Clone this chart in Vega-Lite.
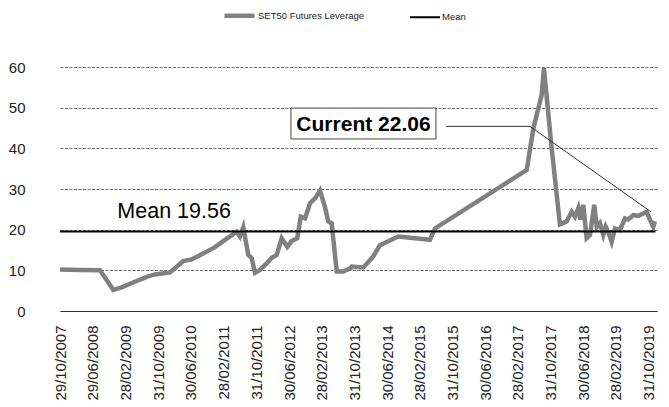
{
  "$schema": "https://vega.github.io/schema/vega-lite/v6.json",
  "width": 597,
  "height": 244,
  "autosize": {"type": "none"},
  "padding": {"left": 60, "top": 67, "right": 12, "bottom": 96},
  "background": "white",
  "config": {
    "view": {"stroke": null},
    "font": "Liberation Sans",
    "text": {"font": "Liberation Sans"},
    "axis": {"labelOverlap": false, "labelFlush": false, "labelBound": false},
    "axisX": {"labelOverlap": false, "labelFlush": false}
  },
  "datasets": {
    "lines": [
      {"date": "2007-10-29", "value": 10.2, "series": "SET50 Futures Leverage"},
      {"date": "2008-03-31", "value": 10.1, "series": "SET50 Futures Leverage"},
      {"date": "2008-08-22", "value": 10.0, "series": "SET50 Futures Leverage"},
      {"date": "2008-11-29", "value": 5.2, "series": "SET50 Futures Leverage"},
      {"date": "2009-01-30", "value": 5.8, "series": "SET50 Futures Leverage"},
      {"date": "2009-05-09", "value": 7.2, "series": "SET50 Futures Leverage"},
      {"date": "2009-08-05", "value": 8.4, "series": "SET50 Futures Leverage"},
      {"date": "2009-10-05", "value": 9.0, "series": "SET50 Futures Leverage"},
      {"date": "2010-01-25", "value": 9.5, "series": "SET50 Futures Leverage"},
      {"date": "2010-05-04", "value": 12.3, "series": "SET50 Futures Leverage"},
      {"date": "2010-07-06", "value": 12.7, "series": "SET50 Futures Leverage"},
      {"date": "2010-08-24", "value": 13.5, "series": "SET50 Futures Leverage"},
      {"date": "2010-10-25", "value": 14.6, "series": "SET50 Futures Leverage"},
      {"date": "2010-12-26", "value": 15.7, "series": "SET50 Futures Leverage"},
      {"date": "2011-03-11", "value": 17.5, "series": "SET50 Futures Leverage"},
      {"date": "2011-05-12", "value": 18.9, "series": "SET50 Futures Leverage"},
      {"date": "2011-06-06", "value": 19.5, "series": "SET50 Futures Leverage"},
      {"date": "2011-06-30", "value": 18.3, "series": "SET50 Futures Leverage"},
      {"date": "2011-07-25", "value": 20.6, "series": "SET50 Futures Leverage"},
      {"date": "2011-08-31", "value": 13.8, "series": "SET50 Futures Leverage"},
      {"date": "2011-09-26", "value": 13.0, "series": "SET50 Futures Leverage"},
      {"date": "2011-10-20", "value": 9.4, "series": "SET50 Futures Leverage"},
      {"date": "2011-11-26", "value": 10.1, "series": "SET50 Futures Leverage"},
      {"date": "2012-01-15", "value": 11.7, "series": "SET50 Futures Leverage"},
      {"date": "2012-02-22", "value": 13.1, "series": "SET50 Futures Leverage"},
      {"date": "2012-03-30", "value": 13.8, "series": "SET50 Futures Leverage"},
      {"date": "2012-05-06", "value": 17.9, "series": "SET50 Futures Leverage"},
      {"date": "2012-06-17", "value": 15.8, "series": "SET50 Futures Leverage"},
      {"date": "2012-07-19", "value": 17.2, "series": "SET50 Futures Leverage"},
      {"date": "2012-08-30", "value": 17.9, "series": "SET50 Futures Leverage"},
      {"date": "2012-09-25", "value": 23.2, "series": "SET50 Futures Leverage"},
      {"date": "2012-10-27", "value": 22.8, "series": "SET50 Futures Leverage"},
      {"date": "2012-12-03", "value": 26.5, "series": "SET50 Futures Leverage"},
      {"date": "2013-01-09", "value": 27.7, "series": "SET50 Futures Leverage"},
      {"date": "2013-02-15", "value": 29.6, "series": "SET50 Futures Leverage"},
      {"date": "2013-03-24", "value": 25.6, "series": "SET50 Futures Leverage"},
      {"date": "2013-04-18", "value": 22.0, "series": "SET50 Futures Leverage"},
      {"date": "2013-05-13", "value": 21.6, "series": "SET50 Futures Leverage"},
      {"date": "2013-06-20", "value": 9.7, "series": "SET50 Futures Leverage"},
      {"date": "2013-08-08", "value": 9.7, "series": "SET50 Futures Leverage"},
      {"date": "2013-09-27", "value": 10.5, "series": "SET50 Futures Leverage"},
      {"date": "2013-10-09", "value": 10.9, "series": "SET50 Futures Leverage"},
      {"date": "2014-01-04", "value": 10.7, "series": "SET50 Futures Leverage"},
      {"date": "2014-03-19", "value": 13.4, "series": "SET50 Futures Leverage"},
      {"date": "2014-05-08", "value": 16.2, "series": "SET50 Futures Leverage"},
      {"date": "2014-09-21", "value": 18.3, "series": "SET50 Futures Leverage"},
      {"date": "2015-05-15", "value": 17.5, "series": "SET50 Futures Leverage"},
      {"date": "2015-06-22", "value": 20.3, "series": "SET50 Futures Leverage"},
      {"date": "2017-05-05", "value": 34.7, "series": "SET50 Futures Leverage"},
      {"date": "2017-06-23", "value": 44.9, "series": "SET50 Futures Leverage"},
      {"date": "2017-08-24", "value": 53.1, "series": "SET50 Futures Leverage"},
      {"date": "2017-09-10", "value": 59.7, "series": "SET50 Futures Leverage"},
      {"date": "2017-11-05", "value": 40.5, "series": "SET50 Futures Leverage"},
      {"date": "2018-01-07", "value": 21.3, "series": "SET50 Futures Leverage"},
      {"date": "2018-02-26", "value": 22.0, "series": "SET50 Futures Leverage"},
      {"date": "2018-04-05", "value": 24.4, "series": "SET50 Futures Leverage"},
      {"date": "2018-04-29", "value": 23.2, "series": "SET50 Futures Leverage"},
      {"date": "2018-05-24", "value": 25.3, "series": "SET50 Futures Leverage"},
      {"date": "2018-06-09", "value": 22.5, "series": "SET50 Futures Leverage"},
      {"date": "2018-06-30", "value": 26.1, "series": "SET50 Futures Leverage"},
      {"date": "2018-07-25", "value": 17.9, "series": "SET50 Futures Leverage"},
      {"date": "2018-08-19", "value": 18.7, "series": "SET50 Futures Leverage"},
      {"date": "2018-09-20", "value": 26.1, "series": "SET50 Futures Leverage"},
      {"date": "2018-10-08", "value": 20.7, "series": "SET50 Futures Leverage"},
      {"date": "2018-11-01", "value": 21.6, "series": "SET50 Futures Leverage"},
      {"date": "2018-11-26", "value": 18.7, "series": "SET50 Futures Leverage"},
      {"date": "2018-12-14", "value": 20.7, "series": "SET50 Futures Leverage"},
      {"date": "2019-01-02", "value": 19.4, "series": "SET50 Futures Leverage"},
      {"date": "2019-01-27", "value": 17.0, "series": "SET50 Futures Leverage"},
      {"date": "2019-02-21", "value": 20.3, "series": "SET50 Futures Leverage"},
      {"date": "2019-03-30", "value": 19.9, "series": "SET50 Futures Leverage"},
      {"date": "2019-05-07", "value": 22.8, "series": "SET50 Futures Leverage"},
      {"date": "2019-05-31", "value": 22.5, "series": "SET50 Futures Leverage"},
      {"date": "2019-07-08", "value": 23.6, "series": "SET50 Futures Leverage"},
      {"date": "2019-08-14", "value": 23.4, "series": "SET50 Futures Leverage"},
      {"date": "2019-09-20", "value": 24.0, "series": "SET50 Futures Leverage"},
      {"date": "2019-10-15", "value": 24.4, "series": "SET50 Futures Leverage"},
      {"date": "2019-11-09", "value": 22.4, "series": "SET50 Futures Leverage"},
      {"date": "2019-12-03", "value": 20.7, "series": "SET50 Futures Leverage"},
      {"date": "2019-12-16", "value": 22.06, "series": "SET50 Futures Leverage"},
      {"date": "2007-10-29", "value": 19.56, "series": "Mean"},
      {"date": "2019-12-20", "value": 19.56, "series": "Mean"}
    ],
    "leader": [
      {"date": "2015-09-12", "value": 45.4, "order": 1},
      {"date": "2017-05-29", "value": 45.4, "order": 2},
      {"date": "2019-11-16", "value": 24.4, "order": 3}
    ],
    "box": [
      {"start": "2012-07-14", "end": "2015-06-29", "low": 42.3, "high": 49.9}
    ],
    "meanLabel": [
      {"date": "2008-12-29", "value": 24.3, "label": "Mean 19.56"}
    ],
    "currentLabel": [
      {"date": "2014-01-05", "value": 45.8, "label": "Current 22.06"}
    ]
  },
  "layer": [
    {
      "data": {"name": "lines"},
      "mark": {"type": "line", "strokeJoin": "miter", "strokeCap": "butt"},
      "encoding": {
        "x": {
          "field": "date",
          "type": "temporal",
          "scale": {
            "type": "utc",
            "domain": [
              {"year": 2007, "month": 10, "date": 29, "utc": true},
              {"year": 2019, "month": 12, "date": 31, "utc": true}
            ]
          },
          "axis": {
            "title": null,
            "tickCount": 60,
            "values": [
              {"year": 2007, "month": 10, "date": 29, "utc": true},
              {"year": 2008, "month": 6, "date": 29, "utc": true},
              {"year": 2009, "month": 2, "date": 28, "utc": true},
              {"year": 2009, "month": 10, "date": 31, "utc": true},
              {"year": 2010, "month": 6, "date": 30, "utc": true},
              {"year": 2011, "month": 2, "date": 28, "utc": true},
              {"year": 2011, "month": 10, "date": 31, "utc": true},
              {"year": 2012, "month": 6, "date": 30, "utc": true},
              {"year": 2013, "month": 2, "date": 28, "utc": true},
              {"year": 2013, "month": 10, "date": 31, "utc": true},
              {"year": 2014, "month": 6, "date": 30, "utc": true},
              {"year": 2015, "month": 2, "date": 28, "utc": true},
              {"year": 2015, "month": 10, "date": 31, "utc": true},
              {"year": 2016, "month": 6, "date": 30, "utc": true},
              {"year": 2017, "month": 2, "date": 28, "utc": true},
              {"year": 2017, "month": 10, "date": 31, "utc": true},
              {"year": 2018, "month": 6, "date": 30, "utc": true},
              {"year": 2019, "month": 2, "date": 28, "utc": true},
              {"year": 2019, "month": 10, "date": 31, "utc": true}
            ],
            "format": "%d/%m/%Y",
            "labelAngle": -90,
            "labelFontSize": 15,
            "labelColor": "#222222",
            "labelPadding": 14,
            "labelOverlap": false,
            "labelFlush": false,
            "labelBound": false,
            "ticks": false,
            "grid": false,
            "domain": true,
            "domainColor": "#333333",
            "domainWidth": 1
          }
        },
        "y": {
          "field": "value",
          "type": "quantitative",
          "scale": {"domain": [0, 60], "nice": false, "zero": true},
          "axis": {
            "title": null,
            "tickCount": 20,
            "values": [0, 10, 20, 30, 40, 50, 60],
            "labelFontSize": 15,
            "labelColor": "#222222",
            "labelPadding": 35,
            "ticks": false,
            "domain": false,
            "grid": true,
            "gridDash": [3, 1.5],
            "gridColor": "#444444",
            "gridWidth": 0.8
          }
        },
        "color": {
          "field": "series",
          "type": "nominal",
          "scale": {
            "domain": ["SET50 Futures Leverage", "Mean"],
            "range": ["#808080", "#000000"]
          },
          "legend": {
            "title": null,
            "orient": "none",
            "legendX": 162,
            "legendY": -69,
            "direction": "horizontal",
            "labelFontSize": 9.5,
            "labelColor": "#222222",
            "labelOffset": 1,
            "columnPadding": 41,
            "symbolType": "stroke",
            "symbolSize": 900,
            "symbolStrokeWidth": 4,
            "encode": {
              "symbols": {
                "update": {
                  "strokeWidth": {"signal": "datum.value === 'Mean' ? 1.5 : 4.5"}
                }
              }
            }
          }
        },
        "strokeWidth": {
          "field": "series",
          "type": "nominal",
          "scale": {
            "domain": ["SET50 Futures Leverage", "Mean"],
            "range": [4.5, 2]
          },
          "legend": null
        },
        "order": {"field": "date", "type": "temporal"}
      }
    },
    {
      "data": {"name": "leader"},
      "mark": {"type": "line", "stroke": "#333333", "strokeWidth": 1},
      "encoding": {
        "x": {"field": "date", "type": "temporal"},
        "y": {"field": "value", "type": "quantitative"},
        "order": {"field": "order", "type": "quantitative"}
      }
    },
    {
      "data": {"name": "box"},
      "mark": {"type": "rect", "fill": "white", "stroke": "#444444", "strokeWidth": 1},
      "encoding": {
        "x": {"field": "start", "type": "temporal"},
        "x2": {"field": "end"},
        "y": {"field": "low", "type": "quantitative"},
        "y2": {"field": "high"}
      }
    },
    {
      "data": {"name": "currentLabel"},
      "mark": {"type": "text", "fontSize": 21, "fontWeight": "bold", "align": "center", "baseline": "middle", "color": "#000000"},
      "encoding": {
        "x": {"field": "date", "type": "temporal"},
        "y": {"field": "value", "type": "quantitative"},
        "text": {"field": "label"}
      }
    },
    {
      "data": {"name": "meanLabel"},
      "mark": {"type": "text", "fontSize": 21.5, "align": "left", "baseline": "middle", "color": "#000000"},
      "encoding": {
        "x": {"field": "date", "type": "temporal"},
        "y": {"field": "value", "type": "quantitative"},
        "text": {"field": "label"}
      }
    }
  ]
}
